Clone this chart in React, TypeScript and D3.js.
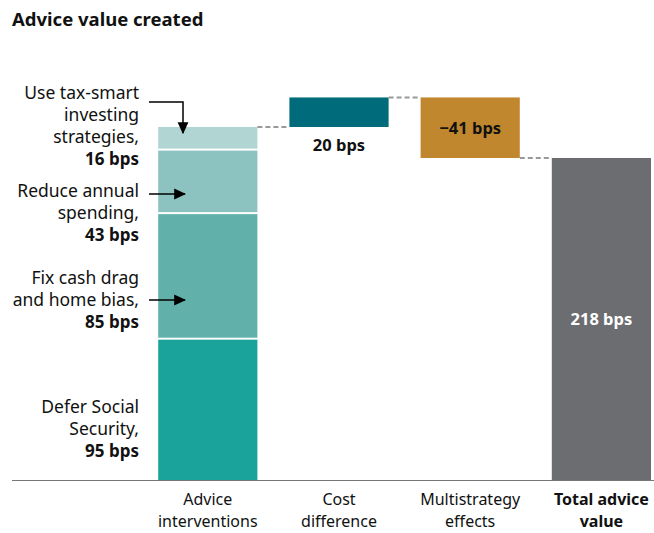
import React from "react";
import * as d3 from "d3";

const categories = ["Advice interventions", "Cost difference", "Multistrategy effects", "Total advice value"];
const categoryLines = [["Advice", "interventions"], ["Cost", "difference"], ["Multistrategy", "effects"], ["Total advice", "value"]];
const segmentNames = ["Defer Social Security", "Fix cash drag and home bias", "Reduce annual spending", "Use tax-smart investing strategies"];
const segmentValues = [95, 85, 43, 16];
const segmentLabelLines = [["Defer Social", "Security,"], ["Fix cash drag", "and home bias,"], ["Reduce annual", "spending,"], ["Use tax-smart", "investing", "strategies,"]];
const costDifference = 20;
const multistrategy = -41;
const totalValue = 218;
const segmentColors = ["#1aa39a", "#62b0aa", "#8cc2bf", "#b0d5d2"];

const W = 654, H = 533;
const FONT = "Noto Sans, sans-serif";

export default function App() {
  const x = d3.scaleBand<string>().domain(categories).range([142.2, 667]).paddingInner(0.244).paddingOuter(0.122);
  const y = d3.scaleLinear().domain([0, 218]).range([480, 158]);
  const bw = x.bandwidth();

  const stackTops = d3.cumsum(segmentValues);
  const adviceTotal = stackTops[stackTops.length - 1];
  const costTop = adviceTotal + costDifference;
  const multiBottom = costTop + multistrategy;

  const xa = x(categories[0])!;
  const xc = x(categories[1])!;
  const xm = x(categories[2])!;
  const xt = x(categories[3])!;

  const lineH = 22;
  const labelX = 139;
  const labelBottoms = [457, 328, 241, 165];

  return (
    <svg width={W} height={H} style={{ position: "absolute", left: 0, top: 0, background: "#fff" }} fontFamily={FONT}>
      <defs>
        <marker id="ah" viewBox="0 0 10 10" refX="9" refY="5" markerUnits="userSpaceOnUse" markerWidth="12" markerHeight="12" orient="auto-start-reverse">
          <path d="M0,0.5 L10,5 L0,9.5 z" fill="#000" />
        </marker>
      </defs>
      <text x={12} y={26} fontSize={18.5} fontWeight={700} fill="#111">Advice value created</text>

      {segmentValues.map((v, i) => {
        const bottom = i === 0 ? 0 : stackTops[i - 1];
        const top = stackTops[i];
        return (
          <rect key={segmentNames[i]} x={xa} width={bw} y={y(top)} height={y(bottom) - y(top) - (i === 0 ? 0 : 2)} fill={segmentColors[i]} />
        );
      })}

      <rect x={xc} width={bw} y={y(costTop)} height={y(adviceTotal) - y(costTop)} fill="#006b7a" />
      <rect x={xm} width={bw} y={y(costTop)} height={y(multiBottom) - y(costTop)} fill="#c0872e" />
      <rect x={xt} width={bw} y={y(totalValue)} height={y(0) - y(totalValue)} fill="#6c6d70" />

      <g stroke="#999" strokeWidth={2} strokeDasharray="5,3">
        <line x1={xa + bw} x2={xc} y1={y(adviceTotal)} y2={y(adviceTotal)} />
        <line x1={xc + bw} x2={xm} y1={y(costTop)} y2={y(costTop)} />
        <line x1={xm + bw} x2={xt} y1={y(multiBottom)} y2={y(multiBottom)} />
      </g>

      <line x1={12} x2={654} y1={y(0) + 0.5} y2={y(0) + 0.5} stroke="#777" strokeWidth={1.2} />

      <text x={xc + bw / 2} y={151} textAnchor="middle" fontSize={16.5} fontWeight={700} fill="#111">{`${costDifference} bps`}</text>
      <text x={xm + bw / 2} y={(y(costTop) + y(multiBottom)) / 2 + 6} textAnchor="middle" fontSize={16.5} fontWeight={700} fill="#111">{`\u2212${Math.abs(multistrategy)} bps`}</text>
      <text x={xt + bw / 2} y={(y(totalValue) + y(0)) / 2 + 6} textAnchor="middle" fontSize={16.5} fontWeight={700} fill="#fff">{`${totalValue} bps`}</text>

      {segmentLabelLines.map((lines, i) => {
        const b = labelBottoms[i];
        const n = lines.length;
        return (
          <text key={i} fontSize={17.5} textAnchor="end" fill="#111" x={labelX} y={b - n * lineH}>
            {lines.map((l, j) => (
              <tspan key={j} x={labelX} dy={j === 0 ? 0 : lineH}>{l}</tspan>
            ))}
            <tspan x={labelX} dy={lineH} fontWeight={700} fontSize={17}>{`${segmentValues[i]} bps`}</tspan>
          </text>
        );
      })}

      <g stroke="#000" strokeWidth={1.5} fill="none">
        <path d="M149,102 H183 V133" markerEnd="url(#ah)" />
        <line x1={149} x2={185} y1={194} y2={194} markerEnd="url(#ah)" />
        <line x1={149} x2={185} y1={300} y2={300} markerEnd="url(#ah)" />
      </g>

      {categories.map((c, i) => (
        <text key={c} textAnchor="middle" fill="#111" fontWeight={i === 3 ? 700 : 400} fontSize={16} x={x(c)! + bw / 2} y={505}>
          {categoryLines[i].map((l, j) => (
            <tspan key={j} x={x(c)! + bw / 2} dy={j === 0 ? 0 : 22}>{l}</tspan>
          ))}
        </text>
      ))}
    </svg>
  );
}
